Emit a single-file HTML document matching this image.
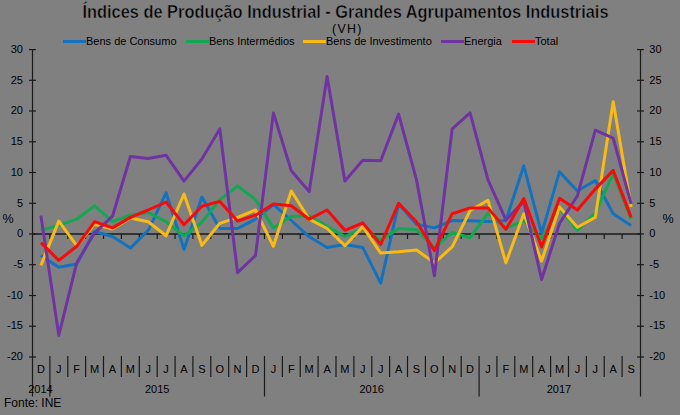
<!DOCTYPE html>
<html><head><meta charset="utf-8"><style>
html,body{margin:0;padding:0;background:#808080;width:680px;height:415px;overflow:hidden}
svg{display:block}
.t{font-family:"Liberation Sans",sans-serif;font-size:11px;fill:#000}
.title{font-family:"Liberation Sans",sans-serif;font-size:17.5px;font-weight:bold;fill:#000;stroke:#808080;stroke-width:0.5px}
</style></head><body>
<svg width="680" height="415" viewBox="0 0 680 415">
<line x1="32.5" y1="50" x2="32.5" y2="396.5" stroke="#1a1a1a" stroke-width="1.2"/>
<line x1="640.5" y1="50" x2="640.5" y2="396.5" stroke="#1a1a1a" stroke-width="1.2"/>
<line x1="29" y1="357.0" x2="36" y2="357.0" stroke="#1a1a1a" stroke-width="1.2"/>
<line x1="637" y1="357.0" x2="644" y2="357.0" stroke="#1a1a1a" stroke-width="1.2"/>
<text x="23" y="360.2" text-anchor="end" class="t">-20</text>
<text x="649.3" y="360.2" class="t">-20</text>
<line x1="29" y1="326.2" x2="36" y2="326.2" stroke="#1a1a1a" stroke-width="1.2"/>
<line x1="637" y1="326.2" x2="644" y2="326.2" stroke="#1a1a1a" stroke-width="1.2"/>
<text x="23" y="329.4" text-anchor="end" class="t">-15</text>
<text x="649.3" y="329.4" class="t">-15</text>
<line x1="29" y1="295.5" x2="36" y2="295.5" stroke="#1a1a1a" stroke-width="1.2"/>
<line x1="637" y1="295.5" x2="644" y2="295.5" stroke="#1a1a1a" stroke-width="1.2"/>
<text x="23" y="298.7" text-anchor="end" class="t">-10</text>
<text x="649.3" y="298.7" class="t">-10</text>
<line x1="29" y1="264.7" x2="36" y2="264.7" stroke="#1a1a1a" stroke-width="1.2"/>
<line x1="637" y1="264.7" x2="644" y2="264.7" stroke="#1a1a1a" stroke-width="1.2"/>
<text x="23" y="267.9" text-anchor="end" class="t">-5</text>
<text x="649.3" y="267.9" class="t">-5</text>
<line x1="29" y1="234.0" x2="36" y2="234.0" stroke="#1a1a1a" stroke-width="1.2"/>
<line x1="637" y1="234.0" x2="644" y2="234.0" stroke="#1a1a1a" stroke-width="1.2"/>
<text x="23" y="237.2" text-anchor="end" class="t">0</text>
<text x="649.3" y="237.2" class="t">0</text>
<line x1="29" y1="203.3" x2="36" y2="203.3" stroke="#1a1a1a" stroke-width="1.2"/>
<line x1="637" y1="203.3" x2="644" y2="203.3" stroke="#1a1a1a" stroke-width="1.2"/>
<text x="23" y="206.5" text-anchor="end" class="t">5</text>
<text x="649.3" y="206.5" class="t">5</text>
<line x1="29" y1="172.5" x2="36" y2="172.5" stroke="#1a1a1a" stroke-width="1.2"/>
<line x1="637" y1="172.5" x2="644" y2="172.5" stroke="#1a1a1a" stroke-width="1.2"/>
<text x="23" y="175.7" text-anchor="end" class="t">10</text>
<text x="649.3" y="175.7" class="t">10</text>
<line x1="29" y1="141.8" x2="36" y2="141.8" stroke="#1a1a1a" stroke-width="1.2"/>
<line x1="637" y1="141.8" x2="644" y2="141.8" stroke="#1a1a1a" stroke-width="1.2"/>
<text x="23" y="145.0" text-anchor="end" class="t">15</text>
<text x="649.3" y="145.0" class="t">15</text>
<line x1="29" y1="111.0" x2="36" y2="111.0" stroke="#1a1a1a" stroke-width="1.2"/>
<line x1="637" y1="111.0" x2="644" y2="111.0" stroke="#1a1a1a" stroke-width="1.2"/>
<text x="23" y="114.2" text-anchor="end" class="t">20</text>
<text x="649.3" y="114.2" class="t">20</text>
<line x1="29" y1="80.3" x2="36" y2="80.3" stroke="#1a1a1a" stroke-width="1.2"/>
<line x1="637" y1="80.3" x2="644" y2="80.3" stroke="#1a1a1a" stroke-width="1.2"/>
<text x="23" y="83.5" text-anchor="end" class="t">25</text>
<text x="649.3" y="83.5" class="t">25</text>
<line x1="29" y1="49.6" x2="36" y2="49.6" stroke="#1a1a1a" stroke-width="1.2"/>
<line x1="637" y1="49.6" x2="644" y2="49.6" stroke="#1a1a1a" stroke-width="1.2"/>
<text x="23" y="52.8" text-anchor="end" class="t">30</text>
<text x="649.3" y="52.8" class="t">30</text>
<line x1="32" y1="234.0" x2="640" y2="234.0" stroke="#1a1a1a" stroke-width="1.5"/>
<line x1="49.9" y1="234.0" x2="49.9" y2="239.0" stroke="#1a1a1a" stroke-width="1.2"/>
<line x1="67.8" y1="234.0" x2="67.8" y2="239.0" stroke="#1a1a1a" stroke-width="1.2"/>
<line x1="85.6" y1="234.0" x2="85.6" y2="239.0" stroke="#1a1a1a" stroke-width="1.2"/>
<line x1="103.5" y1="234.0" x2="103.5" y2="239.0" stroke="#1a1a1a" stroke-width="1.2"/>
<line x1="121.4" y1="234.0" x2="121.4" y2="239.0" stroke="#1a1a1a" stroke-width="1.2"/>
<line x1="139.3" y1="234.0" x2="139.3" y2="239.0" stroke="#1a1a1a" stroke-width="1.2"/>
<line x1="157.2" y1="234.0" x2="157.2" y2="239.0" stroke="#1a1a1a" stroke-width="1.2"/>
<line x1="175.1" y1="234.0" x2="175.1" y2="239.0" stroke="#1a1a1a" stroke-width="1.2"/>
<line x1="192.9" y1="234.0" x2="192.9" y2="239.0" stroke="#1a1a1a" stroke-width="1.2"/>
<line x1="210.8" y1="234.0" x2="210.8" y2="239.0" stroke="#1a1a1a" stroke-width="1.2"/>
<line x1="228.7" y1="234.0" x2="228.7" y2="239.0" stroke="#1a1a1a" stroke-width="1.2"/>
<line x1="246.6" y1="234.0" x2="246.6" y2="239.0" stroke="#1a1a1a" stroke-width="1.2"/>
<line x1="264.5" y1="234.0" x2="264.5" y2="239.0" stroke="#1a1a1a" stroke-width="1.2"/>
<line x1="282.4" y1="234.0" x2="282.4" y2="239.0" stroke="#1a1a1a" stroke-width="1.2"/>
<line x1="300.2" y1="234.0" x2="300.2" y2="239.0" stroke="#1a1a1a" stroke-width="1.2"/>
<line x1="318.1" y1="234.0" x2="318.1" y2="239.0" stroke="#1a1a1a" stroke-width="1.2"/>
<line x1="336.0" y1="234.0" x2="336.0" y2="239.0" stroke="#1a1a1a" stroke-width="1.2"/>
<line x1="353.9" y1="234.0" x2="353.9" y2="239.0" stroke="#1a1a1a" stroke-width="1.2"/>
<line x1="371.8" y1="234.0" x2="371.8" y2="239.0" stroke="#1a1a1a" stroke-width="1.2"/>
<line x1="389.6" y1="234.0" x2="389.6" y2="239.0" stroke="#1a1a1a" stroke-width="1.2"/>
<line x1="407.5" y1="234.0" x2="407.5" y2="239.0" stroke="#1a1a1a" stroke-width="1.2"/>
<line x1="425.4" y1="234.0" x2="425.4" y2="239.0" stroke="#1a1a1a" stroke-width="1.2"/>
<line x1="443.3" y1="234.0" x2="443.3" y2="239.0" stroke="#1a1a1a" stroke-width="1.2"/>
<line x1="461.2" y1="234.0" x2="461.2" y2="239.0" stroke="#1a1a1a" stroke-width="1.2"/>
<line x1="479.1" y1="234.0" x2="479.1" y2="239.0" stroke="#1a1a1a" stroke-width="1.2"/>
<line x1="496.9" y1="234.0" x2="496.9" y2="239.0" stroke="#1a1a1a" stroke-width="1.2"/>
<line x1="514.8" y1="234.0" x2="514.8" y2="239.0" stroke="#1a1a1a" stroke-width="1.2"/>
<line x1="532.7" y1="234.0" x2="532.7" y2="239.0" stroke="#1a1a1a" stroke-width="1.2"/>
<line x1="550.6" y1="234.0" x2="550.6" y2="239.0" stroke="#1a1a1a" stroke-width="1.2"/>
<line x1="568.5" y1="234.0" x2="568.5" y2="239.0" stroke="#1a1a1a" stroke-width="1.2"/>
<line x1="586.4" y1="234.0" x2="586.4" y2="239.0" stroke="#1a1a1a" stroke-width="1.2"/>
<line x1="604.2" y1="234.0" x2="604.2" y2="239.0" stroke="#1a1a1a" stroke-width="1.2"/>
<line x1="622.1" y1="234.0" x2="622.1" y2="239.0" stroke="#1a1a1a" stroke-width="1.2"/>
<line x1="49.9" y1="356" x2="49.9" y2="396.5" stroke="#1a1a1a" stroke-width="1.2"/>
<line x1="67.8" y1="356" x2="67.8" y2="377" stroke="#1a1a1a" stroke-width="1.2"/>
<line x1="85.6" y1="356" x2="85.6" y2="377" stroke="#1a1a1a" stroke-width="1.2"/>
<line x1="103.5" y1="356" x2="103.5" y2="377" stroke="#1a1a1a" stroke-width="1.2"/>
<line x1="121.4" y1="356" x2="121.4" y2="377" stroke="#1a1a1a" stroke-width="1.2"/>
<line x1="139.3" y1="356" x2="139.3" y2="377" stroke="#1a1a1a" stroke-width="1.2"/>
<line x1="157.2" y1="356" x2="157.2" y2="377" stroke="#1a1a1a" stroke-width="1.2"/>
<line x1="175.1" y1="356" x2="175.1" y2="377" stroke="#1a1a1a" stroke-width="1.2"/>
<line x1="192.9" y1="356" x2="192.9" y2="377" stroke="#1a1a1a" stroke-width="1.2"/>
<line x1="210.8" y1="356" x2="210.8" y2="377" stroke="#1a1a1a" stroke-width="1.2"/>
<line x1="228.7" y1="356" x2="228.7" y2="377" stroke="#1a1a1a" stroke-width="1.2"/>
<line x1="246.6" y1="356" x2="246.6" y2="377" stroke="#1a1a1a" stroke-width="1.2"/>
<line x1="264.5" y1="356" x2="264.5" y2="396.5" stroke="#1a1a1a" stroke-width="1.2"/>
<line x1="282.4" y1="356" x2="282.4" y2="377" stroke="#1a1a1a" stroke-width="1.2"/>
<line x1="300.2" y1="356" x2="300.2" y2="377" stroke="#1a1a1a" stroke-width="1.2"/>
<line x1="318.1" y1="356" x2="318.1" y2="377" stroke="#1a1a1a" stroke-width="1.2"/>
<line x1="336.0" y1="356" x2="336.0" y2="377" stroke="#1a1a1a" stroke-width="1.2"/>
<line x1="353.9" y1="356" x2="353.9" y2="377" stroke="#1a1a1a" stroke-width="1.2"/>
<line x1="371.8" y1="356" x2="371.8" y2="377" stroke="#1a1a1a" stroke-width="1.2"/>
<line x1="389.6" y1="356" x2="389.6" y2="377" stroke="#1a1a1a" stroke-width="1.2"/>
<line x1="407.5" y1="356" x2="407.5" y2="377" stroke="#1a1a1a" stroke-width="1.2"/>
<line x1="425.4" y1="356" x2="425.4" y2="377" stroke="#1a1a1a" stroke-width="1.2"/>
<line x1="443.3" y1="356" x2="443.3" y2="377" stroke="#1a1a1a" stroke-width="1.2"/>
<line x1="461.2" y1="356" x2="461.2" y2="377" stroke="#1a1a1a" stroke-width="1.2"/>
<line x1="479.1" y1="356" x2="479.1" y2="396.5" stroke="#1a1a1a" stroke-width="1.2"/>
<line x1="496.9" y1="356" x2="496.9" y2="377" stroke="#1a1a1a" stroke-width="1.2"/>
<line x1="514.8" y1="356" x2="514.8" y2="377" stroke="#1a1a1a" stroke-width="1.2"/>
<line x1="532.7" y1="356" x2="532.7" y2="377" stroke="#1a1a1a" stroke-width="1.2"/>
<line x1="550.6" y1="356" x2="550.6" y2="377" stroke="#1a1a1a" stroke-width="1.2"/>
<line x1="568.5" y1="356" x2="568.5" y2="377" stroke="#1a1a1a" stroke-width="1.2"/>
<line x1="586.4" y1="356" x2="586.4" y2="377" stroke="#1a1a1a" stroke-width="1.2"/>
<line x1="604.2" y1="356" x2="604.2" y2="377" stroke="#1a1a1a" stroke-width="1.2"/>
<line x1="622.1" y1="356" x2="622.1" y2="377" stroke="#1a1a1a" stroke-width="1.2"/>
<text x="40.9" y="373" text-anchor="middle" class="t">D</text>
<text x="58.8" y="373" text-anchor="middle" class="t">J</text>
<text x="76.7" y="373" text-anchor="middle" class="t">F</text>
<text x="94.6" y="373" text-anchor="middle" class="t">M</text>
<text x="112.5" y="373" text-anchor="middle" class="t">A</text>
<text x="130.4" y="373" text-anchor="middle" class="t">M</text>
<text x="148.2" y="373" text-anchor="middle" class="t">J</text>
<text x="166.1" y="373" text-anchor="middle" class="t">J</text>
<text x="184.0" y="373" text-anchor="middle" class="t">A</text>
<text x="201.9" y="373" text-anchor="middle" class="t">S</text>
<text x="219.8" y="373" text-anchor="middle" class="t">O</text>
<text x="237.6" y="373" text-anchor="middle" class="t">N</text>
<text x="255.5" y="373" text-anchor="middle" class="t">D</text>
<text x="273.4" y="373" text-anchor="middle" class="t">J</text>
<text x="291.3" y="373" text-anchor="middle" class="t">F</text>
<text x="309.2" y="373" text-anchor="middle" class="t">M</text>
<text x="327.1" y="373" text-anchor="middle" class="t">A</text>
<text x="344.9" y="373" text-anchor="middle" class="t">M</text>
<text x="362.8" y="373" text-anchor="middle" class="t">J</text>
<text x="380.7" y="373" text-anchor="middle" class="t">J</text>
<text x="398.6" y="373" text-anchor="middle" class="t">A</text>
<text x="416.5" y="373" text-anchor="middle" class="t">S</text>
<text x="434.4" y="373" text-anchor="middle" class="t">O</text>
<text x="452.2" y="373" text-anchor="middle" class="t">N</text>
<text x="470.1" y="373" text-anchor="middle" class="t">D</text>
<text x="488.0" y="373" text-anchor="middle" class="t">J</text>
<text x="505.9" y="373" text-anchor="middle" class="t">F</text>
<text x="523.8" y="373" text-anchor="middle" class="t">M</text>
<text x="541.6" y="373" text-anchor="middle" class="t">A</text>
<text x="559.5" y="373" text-anchor="middle" class="t">M</text>
<text x="577.4" y="373" text-anchor="middle" class="t">J</text>
<text x="595.3" y="373" text-anchor="middle" class="t">J</text>
<text x="613.2" y="373" text-anchor="middle" class="t">A</text>
<text x="631.1" y="373" text-anchor="middle" class="t">S</text>
<text x="40.5" y="393" text-anchor="middle" class="t">2014</text>
<text x="157.2" y="393" text-anchor="middle" class="t">2015</text>
<text x="371.7" y="393" text-anchor="middle" class="t">2016</text>
<text x="559" y="393" text-anchor="middle" class="t">2017</text>
<text x="2.5" y="223" class="t" style="font-size:12.5px">%</text>
<text x="662.5" y="222.5" class="t" style="font-size:12.5px">%</text>
<polyline points="40.9,255.5 58.8,267.2 76.7,264.1 94.6,231.5 112.5,236.5 130.4,248.1 148.2,230.3 166.1,192.8 184.0,249.4 201.9,197.1 219.8,228.5 237.6,228.5 255.5,219.2 273.4,204.5 291.3,220.5 309.2,236.8 327.1,247.5 344.9,244.5 362.8,247.5 380.7,283.2 398.6,203.9 416.5,224.2 434.4,227.9 452.2,220.5 470.1,220.8 488.0,221.4 505.9,220.5 523.8,165.8 541.6,233.4 559.5,171.9 577.4,191.0 595.3,180.5 613.2,213.7 631.1,225.4" fill="none" stroke="#1272BF" stroke-width="3" stroke-linejoin="round"/>
<polyline points="40.9,230.3 58.8,225.4 76.7,219.2 94.6,205.7 112.5,221.7 130.4,214.9 148.2,212.5 166.1,221.7 184.0,235.8 201.9,222.3 219.8,199.6 237.6,186.0 255.5,199.6 273.4,227.9 291.3,216.2 309.2,215.9 327.1,226.4 344.9,236.5 362.8,228.5 380.7,240.1 398.6,228.5 416.5,229.7 434.4,248.1 452.2,232.4 470.1,237.7 488.0,213.1 505.9,228.5 523.8,220.5 541.6,238.3 559.5,208.2 577.4,230.3 595.3,213.1 613.2,173.7 631.1,219.2" fill="none" stroke="#12A852" stroke-width="3" stroke-linejoin="round"/>
<polyline points="40.9,265.4 58.8,221.1 76.7,245.7 94.6,224.2 112.5,229.1 130.4,218.0 148.2,221.7 166.1,235.8 184.0,194.0 201.9,245.4 219.8,223.3 237.6,217.4 255.5,210.0 273.4,246.3 291.3,191.0 309.2,219.2 327.1,228.5 344.9,245.7 362.8,226.6 380.7,253.1 398.6,251.8 416.5,250.0 434.4,262.9 452.2,246.9 470.1,210.6 488.0,200.2 505.9,262.9 523.8,213.7 541.6,261.1 559.5,206.9 577.4,227.2 595.3,217.4 613.2,101.8 631.1,206.9" fill="none" stroke="#F8BA14" stroke-width="3" stroke-linejoin="round"/>
<polyline points="40.9,215.6 58.8,335.4 76.7,262.9 94.6,232.8 112.5,216.2 130.4,156.5 148.2,158.4 166.1,155.3 184.0,181.1 201.9,159.0 219.8,128.9 237.6,272.7 255.5,255.5 273.4,112.9 291.3,170.7 309.2,191.6 327.1,76.6 344.9,181.1 362.8,160.2 380.7,160.8 398.6,114.1 416.5,179.9 434.4,275.8 452.2,128.9 470.1,112.9 488.0,179.9 505.9,219.9 523.8,201.4 541.6,279.5 559.5,223.5 577.4,195.9 595.3,130.1 613.2,138.1 631.1,203.9" fill="none" stroke="#7033A2" stroke-width="3" stroke-linejoin="round"/>
<polyline points="40.9,242.6 58.8,260.4 76.7,246.3 94.6,221.7 112.5,227.9 130.4,217.4 148.2,210.0 166.1,202.0 184.0,224.8 201.9,206.3 219.8,201.4 237.6,221.1 255.5,215.2 273.4,203.9 291.3,205.7 309.2,219.2 327.1,210.0 344.9,230.3 362.8,222.9 380.7,244.5 398.6,203.3 416.5,221.7 434.4,250.6 452.2,213.7 470.1,207.9 488.0,207.9 505.9,229.4 523.8,198.6 541.6,246.9 559.5,198.3 577.4,210.0 595.3,189.1 613.2,170.4 631.1,217.4" fill="none" stroke="#F80A0A" stroke-width="3" stroke-linejoin="round"/>
<line x1="63" y1="41.5" x2="86" y2="41.5" stroke="#1272BF" stroke-width="3"/>
<text x="86" y="45" class="t">Bens de Consumo</text>
<line x1="186" y1="41.5" x2="209" y2="41.5" stroke="#12A852" stroke-width="3"/>
<text x="209" y="45" class="t">Bens Intermédios</text>
<line x1="303" y1="41.5" x2="326" y2="41.5" stroke="#F8BA14" stroke-width="3"/>
<text x="326" y="45" class="t">Bens de Investimento</text>
<line x1="441" y1="41.5" x2="464" y2="41.5" stroke="#7033A2" stroke-width="3"/>
<text x="464" y="45" class="t">Energia</text>
<line x1="512" y1="41.5" x2="535" y2="41.5" stroke="#F80A0A" stroke-width="3"/>
<text x="535" y="45" class="t">Total</text>
<text transform="translate(82.5,17.8) scale(0.936,1)" x="0" y="0" class="title">Índices de Produção Industrial - Grandes Agrupamentos Industriais</text>
<text x="332" y="33.3" class="t" style="font-size:12.4px;letter-spacing:1.3px">(VH)</text>
<text x="4" y="406.5" class="t" style="font-size:12px">Fonte: INE</text>
</svg></body></html>
